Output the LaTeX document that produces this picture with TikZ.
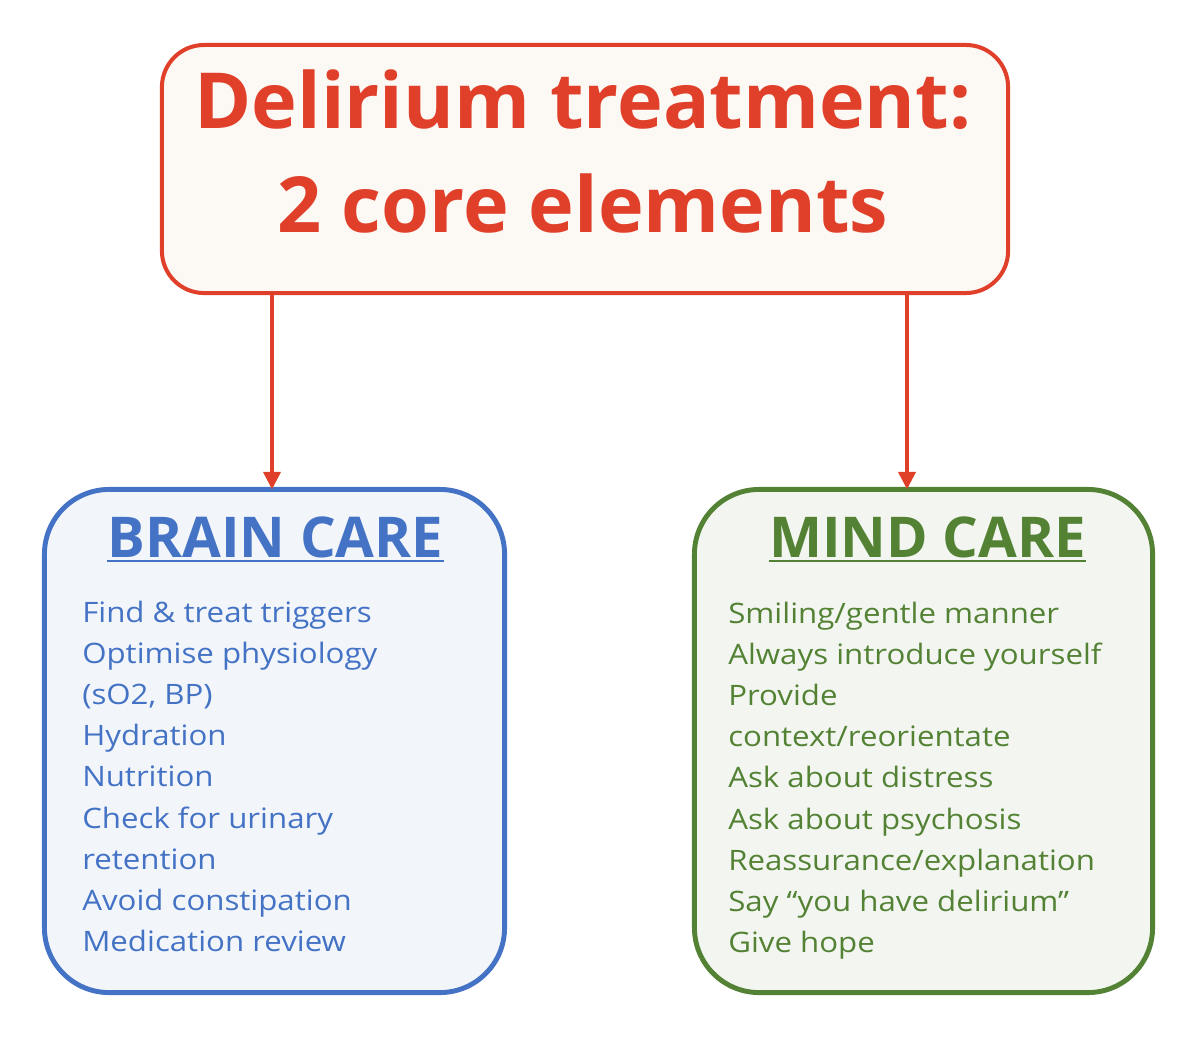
\documentclass[tikz,border=0pt]{standalone}
\usepackage{fontspec}
\setmainfont{Open Sans}
\newfontfamily\listfont[FakeStretch=1.11]{Open Sans}
\usepackage{xcolor}
\usetikzlibrary{arrows.meta}
\definecolor{delred}{HTML}{E0402A}
\definecolor{brainblue}{HTML}{4472C4}
\definecolor{mindgreen}{HTML}{548235}
\definecolor{titlefill}{HTML}{FCF8F4}
\definecolor{brainfill}{HTML}{F2F6FB}
\definecolor{mindfill}{HTML}{F3F6F0}
\tikzset{
  carebox/.style={rectangle, rounded corners=46pt, line width=3.5pt, outer sep=0pt,
    minimum width=11.5cm, minimum height=12.575cm},
  headtext/.style={font=\bfseries\fontsize{40}{48}\selectfont, inner sep=0pt, anchor=base},
  bodytext/.style={font=\listfont\fontsize{20}{24}\selectfont, inner sep=0pt, anchor=base west},
  arr/.style={delred, line width=2.9pt, -{Triangle[width=12pt,length=12.5pt]}}
}
\begin{document}
\begin{tikzpicture}[x=0.025cm, y=-0.025cm]
  \useasboundingbox (0,0) rectangle (1200,1039);

  \node (title) at (585,169) [rectangle, rounded corners=30pt, draw=delred, fill=titlefill,
    line width=2.85pt, outer sep=0pt, minimum width=21.15cm, minimum height=6.2cm] {};
  \node (t1) at (583,128) [anchor=base, inner sep=0pt, text=delred,
    font=\bfseries\fontsize{55}{66}\selectfont] {Delirium treatment:};
  \node (t2) at (583,232) [anchor=base, inner sep=0pt, text=delred,
    font=\bfseries\fontsize{55}{66}\selectfont] {2 core elements};

  \node (brain) at (274.5,741) [carebox, draw=brainblue, fill=brainfill] {};
  \node (mind) at (923.5,741) [carebox, draw=mindgreen, fill=mindfill, minimum width=11.45cm] {};

  % headings
  \node (bhead) at (275.5,557) [headtext, text=brainblue] {BRAIN CARE};
  \node (mhead) at (927.5,557) [headtext, text=mindgreen] {MIND CARE};
  \draw[brainblue, line width=1.4pt] ([yshift=-3pt]bhead.base west) -- ([yshift=-3pt]bhead.base east);
  \draw[mindgreen, line width=1.4pt] ([yshift=-3pt]mhead.base west) -- ([yshift=-3pt]mhead.base east);

  % lists
  \foreach \t [count=\i from 0] in {Find \& treat triggers, Optimise physiology, {(sO2, BP)},
      Hydration, Nutrition, Check for urinary, retention, Avoid constipation, Medication review}
    \node (b\i) at (82,622+\i*41.2) [bodytext, text=brainblue] {\t};
  \foreach \t [count=\i from 0] in {Smiling/gentle manner, Always introduce yourself, Provide,
      context/reorientate, Ask about distress, Ask about psychosis, Reassurance/explanation,
      Say “you have delirium”, Give hope}
    \node (m\i) at (728,623+\i*41.2) [bodytext, text=mindgreen] {\t};

  % arrows
  \coordinate (la) at (272,0);
  \coordinate (ra) at (907,0);
  \draw[arr] (title.south -| la) -- (brain.north -| la);
  \draw[arr] (title.south -| ra) -- (mind.north -| ra);
\end{tikzpicture}
\end{document}
